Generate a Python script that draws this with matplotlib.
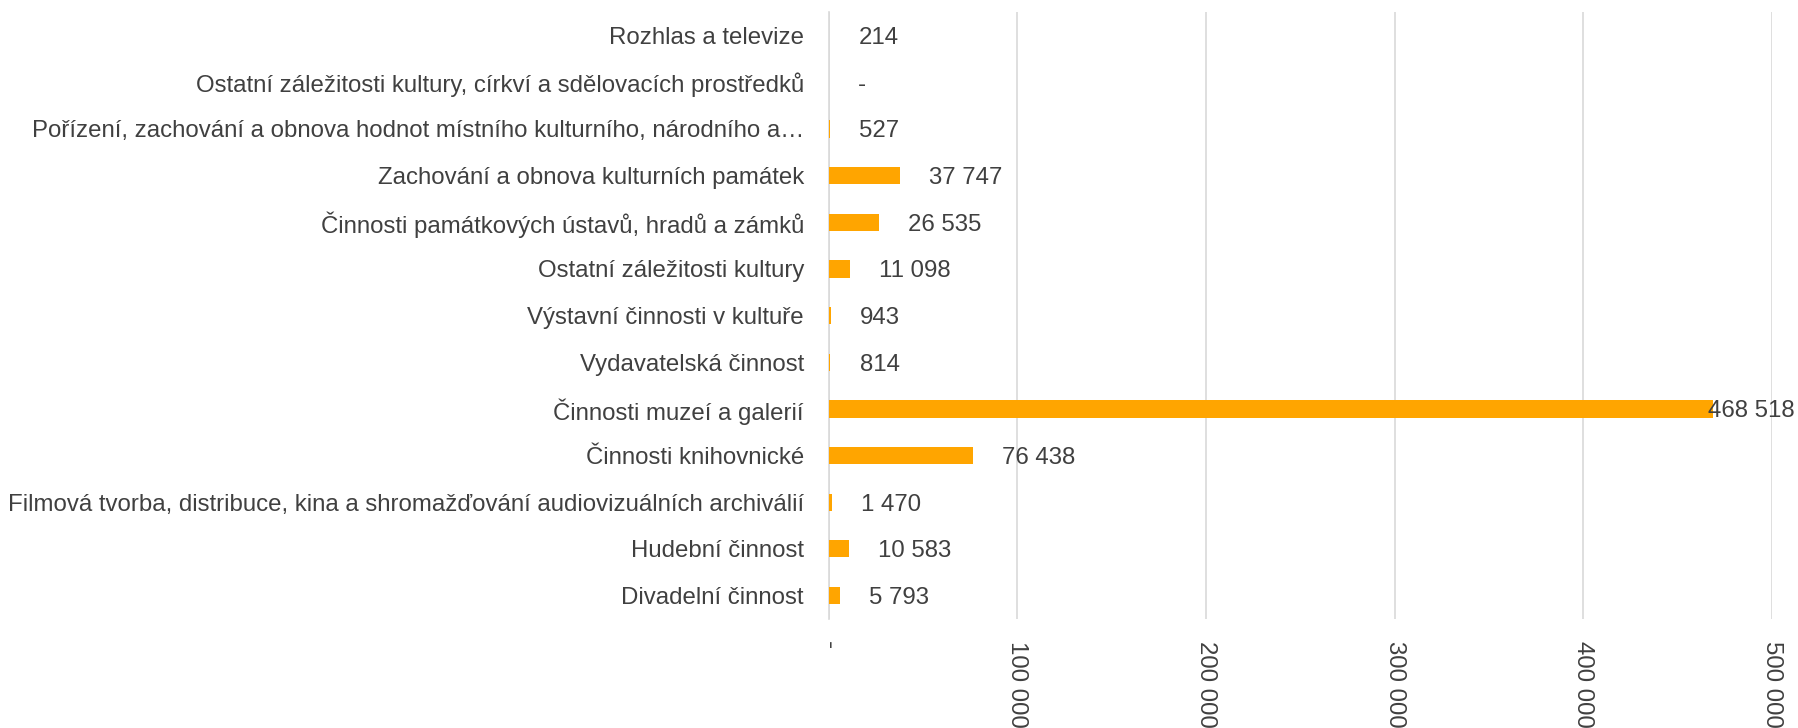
import matplotlib
matplotlib.use("Agg")
import matplotlib.pyplot as plt
from matplotlib.ticker import FuncFormatter

# kategorie odspodu nahoru (jak je kreslí barh)
categories = [
    "Divadelní činnost",
    "Hudební činnost",
    "Filmová tvorba, distribuce, kina a shromažďování audiovizuálních archiválií",
    "Činnosti knihovnické",
    "Činnosti muzeí a galerií",
    "Vydavatelská činnost",
    "Výstavní činnosti v kultuře",
    "Ostatní záležitosti kultury",
    "Činnosti památkových ústavů, hradů a zámků",
    "Zachování a obnova kulturních památek",
    "Pořízení, zachování a obnova hodnot místního kulturního, národního a…",
    "Ostatní záležitosti kultury, církví a sdělovacích prostředků",
    "Rozhlas a televize",
]
values = [5793, 10583, 1470, 76438, 468518, 814, 943, 11098, 26535, 37747, 527, 0, 214]
x_ticks = [0, 100000, 200000, 300000, 400000, 500000]

bar_color = "#FFA500"
text_color = "#404040"
grid_color = "#D9D9D9"

plt.rcParams["font.family"] = ["Liberation Sans", "DejaVu Sans"]


def fmt(v):
    if v == 0:
        return "-"
    return f"{int(v):,}".replace(",", " ")


fig = plt.figure(figsize=(17.98, 7.28), dpi=100)
ax = fig.add_axes([0.461, 0.150, 0.9855 - 0.461, 0.983 - 0.150])

pos = list(range(len(categories)))
ax.barh(pos, values, height=0.37, color=bar_color, zorder=3)

ax.set_xlim(0, 500000)
ax.set_ylim(-0.5, len(categories) - 0.5)
ax.set_xticks(x_ticks)
ax.xaxis.set_major_formatter(FuncFormatter(lambda v, p: fmt(v)))
ax.set_yticks(pos)
ax.set_yticklabels(categories)

ax.grid(axis="x", color=grid_color, linewidth=1.2, zorder=0)
ax.grid(axis="y", visible=False)
for side in ["top", "right", "bottom"]:
    ax.spines[side].set_visible(False)
ax.spines["left"].set_color(grid_color)
ax.spines["left"].set_linewidth(1.2)

ax.tick_params(axis="y", length=0, pad=18, labelsize=17.3, labelcolor=text_color)
ax.tick_params(axis="x", length=0, pad=16, labelsize=17.3, labelcolor=text_color,
               labelrotation=270)
for lbl in ax.get_xticklabels():
    lbl.set_va("top")
    lbl.set_ha("center")

for p, v in zip(pos, values):
    off = 21 if v < 450000 else -3
    ax.annotate(fmt(v), xy=(v, p), xytext=(off, 0), textcoords="offset points",
                ha="left", va="center_baseline", fontsize=17.3, color=text_color,
                annotation_clip=False, zorder=4)

fig.savefig("out.png", dpi=100)
